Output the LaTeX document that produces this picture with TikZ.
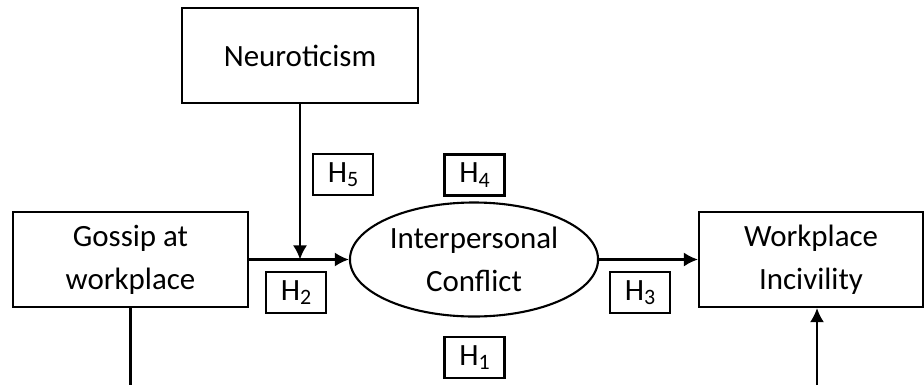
\documentclass[tikz,border=0pt]{standalone}
\usepackage{fontspec}
\setmainfont{Carlito}
\usetikzlibrary{arrows.meta,shapes.geometric}

\newcommand{\hsub}[1]{\raisebox{-0.3ex}{\fontsize{12.5}{12.5}\selectfont #1}}

\tikzset{
  var/.style={draw, line width=1.2pt, align=center, inner sep=2pt,
    font=\fontsize{17.6}{24.4}\selectfont},
  hyp/.style={draw, line width=1.2pt, minimum width=1.2cm, minimum height=0.82cm,
    inner sep=0pt, font=\fontsize{17.6}{20}\selectfont},
  link/.style={line width=1.2pt, -{Latex[length=8pt,width=8pt]}}
}

\begin{document}
\begin{tikzpicture}
\useasboundingbox (0,0) rectangle (18.48,-7.7);
% variables
\node[var, minimum width=4.72cm, minimum height=1.9cm] (neuro) at (6.0,-1.11) {Neuroticism};
\node[var, minimum width=4.7cm, minimum height=1.9cm] (gossip) at (2.61,-5.19) {Gossip at\\workplace};
\node[var, ellipse, minimum width=4.76cm, minimum height=2.28cm] (conflict) at (9.48,-5.19) {Interpersonal\\Conflict};
\node[var, minimum width=4.48cm, minimum height=1.9cm] (incivility) at (16.22,-5.19) {Workplace\\Incivility};
% hypotheses
\node[hyp] (h5) at (6.86,-3.49) {H\hsub{5}};
\node[hyp] (h4) at (9.49,-3.5) {H\hsub{4}};
\node[hyp] (h2) at (5.92,-5.85) {H\hsub{2}};
\node[hyp] (h3) at (12.8,-5.85) {H\hsub{3}};
\node[hyp] (h1) at (9.49,-7.15) {H\hsub{1}};
% paths
\coordinate (mod) at (6.0,-5.19);
\coordinate (gbot) at (2.61,-7.7);
\coordinate (wbot) at (16.34,-7.7);
\draw[link] (gossip.east) -- (conflict.west);
\draw[link] (neuro.south) -- (mod);
\draw[link] (conflict.east) -- (incivility.west);
\draw[line width=1.2pt] (gossip.south) -- (gbot);
\draw[link] (wbot) -- (wbot |- incivility.south);
\end{tikzpicture}
\end{document}
